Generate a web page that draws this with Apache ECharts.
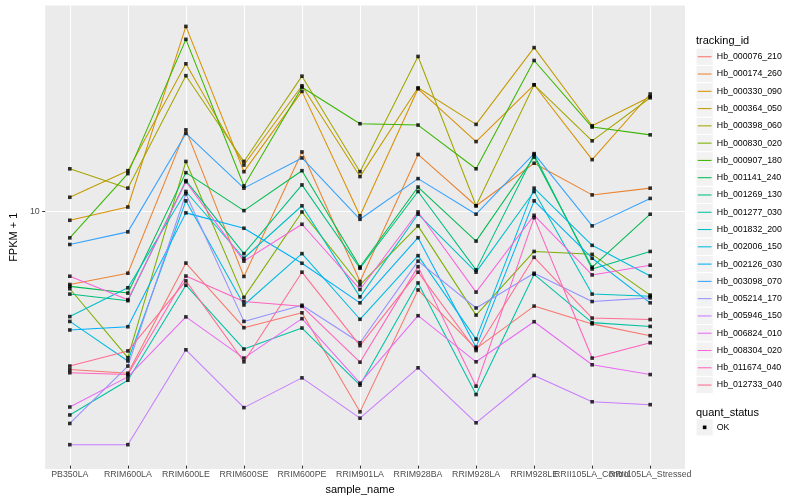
<!DOCTYPE html>
<html>
<head>
<meta charset="utf-8">
<script src="https://cdn.jsdelivr.net/npm/echarts@6.0.0/dist/echarts.min.js"></script>
<style>
html,body{margin:0;padding:0;background:#ffffff;}
#chart{width:800px;height:500px;}
</style>
</head>
<body>
<div id="chart"></div>
<script>
// ---- data ----
const categories = ['PB350LA','RRIM600LA','RRIM600LE','RRIM600SE','RRIM600PE','RRIM901LA','RRIM928BA','RRIM928LA','RRIM928LE','RRII105LA_Control','RRII105LA_Stressed'];
const trackingIds = ['Hb_000076_210','Hb_000174_260','Hb_000330_090','Hb_000364_050','Hb_000398_060','Hb_000830_020','Hb_000907_180','Hb_001141_240','Hb_001269_130','Hb_001277_030','Hb_001832_200','Hb_002006_150','Hb_002126_030','Hb_003098_070','Hb_005214_170','Hb_005946_150','Hb_006824_010','Hb_008304_020','Hb_011674_040','Hb_012733_040'];
const lineColors = ['#F8766D','#EA8331','#D89000','#C09B00','#A3A500','#7CAE00','#39B600','#00BB4E','#00BF7D','#00C1A3','#00BFC4','#00BAE0','#00B0F6','#35A2FF','#9590FF','#C77CFF','#E76BF3','#FA62DB','#FF62BC','#FF6C91'];
const quantStatus = ['OK'];
const yTickValues = [10];
const yTickLabels = ['10'];

const hb_000076_210 = [2.91, 2.83, 6.62, 4.02, 4.51, 2.10, 5.38, 3.42, 4.75, 4.14, 3.78];
const hb_000174_260 = [5.61, 6.12, 18.5, 5.97, 15.6, 5.74, 15.3, 10.3, 14.3, 11.2, 11.8];
const hb_000330_090 = [9.21, 10.2, 41.1, 13.4, 24.9, 9.53, 25.4, 16.9, 26.2, 14.7, 24.4];
const hb_000364_050 = [11.0, 13.5, 30.8, 14.1, 26.0, 12.9, 25.6, 19.3, 34.9, 19.1, 23.9];
const hb_000398_060 = [13.7, 11.8, 28.1, 14.5, 28.0, 13.4, 32.6, 10.3, 26.2, 17.0, 23.7];
const hb_000830_020 = [5.43, 3.19, 14.5, 5.08, 9.82, 5.59, 8.82, 4.43, 7.24, 7.08, 5.17];
const hb_000907_180 = [8.04, 13.2, 37.2, 12.0, 25.7, 19.4, 19.2, 13.7, 31.6, 18.9, 17.8];
const hb_001141_240 = [5.53, 5.25, 13.3, 9.92, 13.5, 6.42, 11.9, 7.84, 15.0, 6.41, 9.65];
const hb_001269_130 = [5.21, 4.95, 12.5, 7.12, 12.1, 6.36, 11.5, 6.28, 15.3, 6.32, 7.24];
const hb_001277_030 = [2.05, 2.68, 5.58, 3.41, 4.01, 2.58, 5.68, 2.40, 6.07, 4.18, 4.06];
const hb_001832_200 = [4.38, 5.47, 11.5, 6.87, 10.3, 5.10, 9.65, 6.17, 11.5, 5.21, 5.12];
const hb_002006_150 = [4.22, 3.11, 10.7, 4.79, 7.12, 4.29, 7.01, 3.68, 11.8, 7.59, 5.99];
const hb_002126_030 = [3.95, 4.05, 9.75, 8.66, 6.61, 4.87, 8.05, 3.46, 10.7, 6.87, 4.87];
const hb_003098_070 = [7.64, 8.42, 18.0, 11.8, 14.9, 9.28, 12.7, 9.65, 15.4, 8.82, 10.9];
const hb_005214_170 = [1.92, 2.99, 11.3, 4.22, 4.78, 3.58, 6.72, 4.68, 6.12, 4.92, 5.06];
const hb_005946_150 = [1.63, 1.63, 3.39, 2.17, 2.73, 2.00, 2.95, 1.93, 2.78, 2.27, 2.22];
const hb_006824_010 = [2.18, 2.75, 4.37, 3.18, 4.31, 2.62, 4.41, 3.09, 4.21, 3.02, 2.80];
const hb_008304_020 = [5.98, 4.99, 12.4, 6.72, 8.93, 5.40, 9.82, 5.29, 9.57, 6.04, 6.51];
const hb_011674_040 = [2.84, 2.80, 5.99, 4.92, 4.74, 3.08, 6.44, 2.56, 9.40, 3.18, 3.58];
const hb_012733_040 = [2.99, 3.36, 5.77, 3.09, 6.17, 3.50, 6.17, 3.37, 6.92, 4.33, 4.28];

const seriesValues = [hb_000076_210, hb_000174_260, hb_000330_090, hb_000364_050, hb_000398_060,
  hb_000830_020, hb_000907_180, hb_001141_240, hb_001269_130, hb_001277_030, hb_001832_200,
  hb_002006_150, hb_002126_030, hb_003098_070, hb_005214_170, hb_005946_150, hb_006824_010,
  hb_008304_020, hb_011674_040, hb_012733_040];

// ---- layout / style ----
const FONT = 'Liberation Sans, Arial, Helvetica, sans-serif';
const panel = {left: 35, top: 5.5, width: 650, height: 463.5};
const catStep = panel.width / (categories.length - 1 + 1.2);
const inner = {left: panel.left + 0.6 * catStep, width: catStep * (categories.length - 1)};

// ggplot-style 5% expansion in log space
const allVals = seriesValues.flat();
const lo = Math.log10(Math.min(...allVals));
const hi = Math.log10(Math.max(...allVals));
const pad = (hi - lo) * 0.05;
const yMin = Math.pow(10, lo - pad);
const yMax = Math.pow(10, hi + pad);

const series = seriesValues.map((vals, i) => ({
  name: trackingIds[i],
  type: 'line',
  xAxisIndex: 1, yAxisIndex: 1,
  data: vals,
  showSymbol: false,
  symbol: 'none',
  silent: true,
  z: 2,
  lineStyle: {color: lineColors[i], width: 1.05},
  itemStyle: {color: lineColors[i]},
  emphasis: {disabled: true}
}));

const pointData = [];
seriesValues.forEach(vals => vals.forEach((v, j) => pointData.push([categories[j], v])));
series.push({
  name: quantStatus[0],
  type: 'scatter',
  xAxisIndex: 1, yAxisIndex: 1,
  data: pointData,
  symbol: 'rect',
  symbolSize: 3.6,
  silent: true,
  z: 5,
  itemStyle: {color: '#000000'},
  emphasis: {disabled: true}
});

// ---- legend drawn as graphics ----
const graphics = [];
const lgX = 696, keyS = 17.28, keyTop = 48.1;
graphics.push({type: 'text', silent: true, style: {text: 'tracking_id', x: lgX, y: 40.7, fill: '#000', font: '11px ' + FONT, verticalAlign: 'middle', textVerticalAlign: 'middle'}});
trackingIds.forEach((id, i) => {
  const y = keyTop + i * keyS;
  graphics.push({type: 'rect', silent: true, shape: {x: lgX, y: y, width: keyS, height: keyS}, style: {fill: '#F2F2F2', stroke: '#FFFFFF', lineWidth: 1}});
  graphics.push({type: 'line', silent: true, shape: {x1: lgX + 1.7, y1: y + keyS / 2, x2: lgX + keyS - 1.7, y2: y + keyS / 2}, style: {stroke: lineColors[i], lineWidth: 1.05}});
  graphics.push({type: 'text', silent: true, style: {text: id, x: lgX + keyS + 3.5, y: y + keyS / 2, fill: '#000', font: '8.8px ' + FONT, verticalAlign: 'middle', textVerticalAlign: 'middle'}});
});
graphics.push({type: 'text', silent: true, style: {text: 'quant_status', x: lgX, y: 412.7, fill: '#000', font: '11px ' + FONT, verticalAlign: 'middle', textVerticalAlign: 'middle'}});
quantStatus.forEach((q, i) => {
  const y = 418.7 + i * keyS;
  graphics.push({type: 'rect', silent: true, shape: {x: lgX, y: y, width: keyS, height: keyS}, style: {fill: '#F2F2F2', stroke: '#FFFFFF', lineWidth: 1}});
  graphics.push({type: 'rect', silent: true, shape: {x: lgX + keyS / 2 - 1.8, y: y + keyS / 2 - 1.8, width: 3.6, height: 3.6}, style: {fill: '#000'}});
  graphics.push({type: 'text', silent: true, style: {text: q, x: lgX + keyS + 3.5, y: y + keyS / 2, fill: '#000', font: '8.8px ' + FONT, verticalAlign: 'middle', textVerticalAlign: 'middle'}});
});

const chart = echarts.init(document.getElementById('chart'), null, {renderer: 'canvas', width: 800, height: 500});
chart.setOption({
  animation: false,
  backgroundColor: '#FFFFFF',
  textStyle: {fontFamily: FONT},
  tooltip: {show: false},
  legend: {show: false},
  grid: [
    {left: panel.left, top: panel.top, width: panel.width, height: panel.height, show: true, backgroundColor: '#EBEBEB', borderWidth: 0, containLabel: false},
    {left: inner.left, top: panel.top, width: inner.width, height: panel.height, show: false, containLabel: false}
  ],
  xAxis: [
    {gridIndex: 0, type: 'value', min: 0, max: 1, show: false},
    {gridIndex: 1, type: 'category', data: categories, boundaryGap: false,
     axisLine: {show: false},
     axisTick: {show: true, length: 3, lineStyle: {color: '#333333', width: 1}},
     axisLabel: {show: true, interval: 0, hideOverlap: false, color: '#4D4D4D', fontSize: 8.8, fontFamily: FONT, margin: 4.5},
     splitLine: {show: true, lineStyle: {color: '#FFFFFF', width: 1.05}},
     name: 'sample_name', nameLocation: 'middle', nameGap: 14.5,
     nameTextStyle: {color: '#000000', fontSize: 11, fontFamily: FONT}}
  ],
  yAxis: [
    {gridIndex: 0, type: 'log', logBase: 10, min: yMin, max: yMax,
     axisLine: {show: false},
     axisTick: {show: true, length: 3, customValues: yTickValues, lineStyle: {color: '#333333', width: 1}},
     axisLabel: {show: true, customValues: yTickValues, showMinLabel: false, showMaxLabel: false,
       color: '#4D4D4D', fontSize: 8.8, fontFamily: FONT, margin: 5.5,
       formatter: function (v) { const k = yTickValues.findIndex(t => Math.abs(t - v) < 1e-6 * t); return k >= 0 ? yTickLabels[k] : ''; }},
     splitLine: {show: true, lineStyle: {color: '#FFFFFF', width: 1.05}},
     name: 'FPKM + 1', nameLocation: 'middle', nameGap: 18, nameRotate: 90,
     nameTextStyle: {color: '#000000', fontSize: 11, fontFamily: FONT}},
    {gridIndex: 1, type: 'log', logBase: 10, min: yMin, max: yMax, show: false,
     splitLine: {show: false}, axisLabel: {show: false}, axisTick: {show: false}}
  ],
  graphic: graphics,
  series: series
});
</script>
</body>
</html>
